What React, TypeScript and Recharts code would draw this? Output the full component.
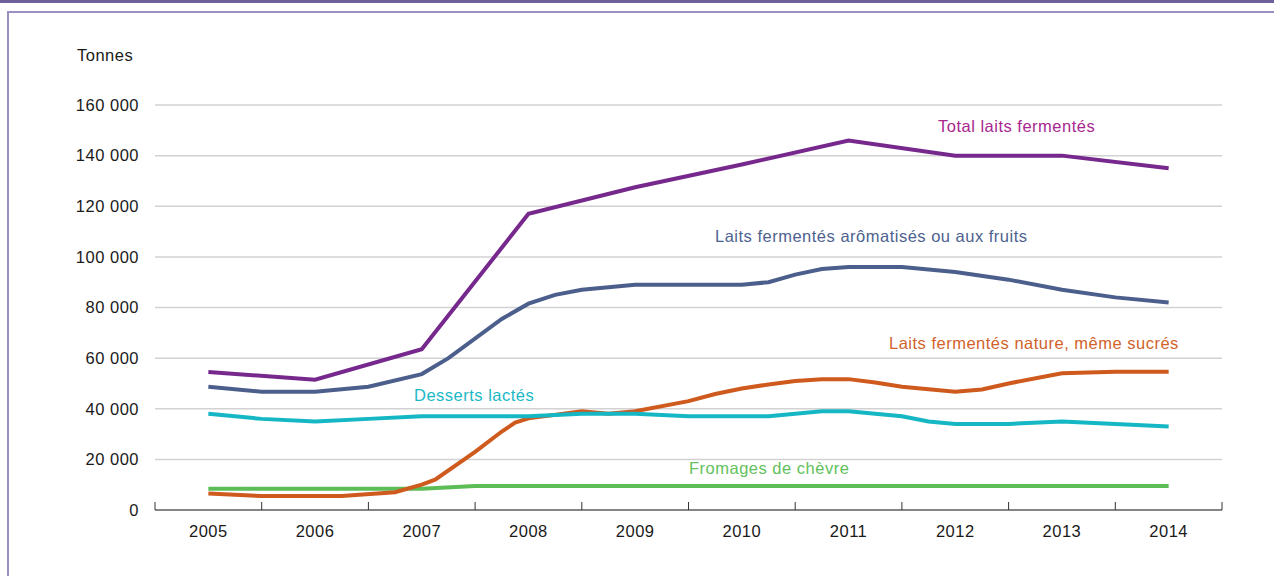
import React from 'react';
import { LineChart, Line, XAxis, YAxis, CartesianGrid } from 'recharts';

// Tick labels / categories
const years = [2005, 2006, 2007, 2008, 2009, 2010, 2011, 2012, 2013, 2014];
const yearBounds = [2004.5, 2005.5, 2006.5, 2007.5, 2008.5, 2009.5, 2010.5, 2011.5, 2012.5, 2013.5, 2014.5];
const yTicks = [0, 20000, 40000, 60000, 80000, 100000, 120000, 140000, 160000];

// Total laits fermentés
const totalX = [2005, 2006, 2007, 2008, 2009, 2010, 2011, 2012, 2013, 2014];
const totalY = [54500, 51500, 63500, 117000, 127500, 136500, 146000, 140000, 140000, 135000];

// Laits fermentés arômatisés ou aux fruits
const aromX = [2005, 2005.5, 2006, 2006.5, 2007, 2007.25, 2007.75, 2008, 2008.25, 2008.5, 2009, 2010, 2010.25, 2010.5, 2010.75, 2011, 2011.5, 2012, 2012.5, 2013, 2013.5, 2014];
const aromY = [48700, 46700, 46700, 48700, 53700, 60000, 75500, 81500, 85000, 87000, 89000, 89000, 90000, 93000, 95200, 96000, 96000, 94000, 91000, 87000, 84000, 82000];

// Laits fermentés nature, même sucrés
const natX = [2005, 2005.5, 2006, 2006.25, 2006.75, 2007, 2007.125, 2007.5, 2007.75, 2007.875, 2008, 2008.5, 2008.75, 2009, 2009.5, 2009.75, 2010, 2010.25, 2010.5, 2010.75, 2011, 2011.25, 2011.5, 2012, 2012.25, 2012.5, 2013, 2013.5, 2014];
const natY = [6500, 5500, 5500, 5500, 7000, 10000, 12000, 23000, 31000, 34500, 36200, 39000, 38000, 39000, 43000, 45800, 48000, 49600, 51000, 51700, 51700, 50400, 48700, 46700, 47600, 50000, 54000, 54600, 54600];

// Desserts lactés
const dessX = [2005, 2005.5, 2006, 2006.5, 2007, 2008, 2008.5, 2009, 2009.5, 2010, 2010.25, 2010.75, 2011, 2011.5, 2011.75, 2012, 2012.5, 2013, 2014];
const dessY = [38000, 36000, 35000, 36000, 37000, 37000, 38000, 38000, 37000, 37000, 37000, 39000, 39000, 37000, 35000, 34000, 34000, 35000, 33000];

// Fromages de chèvre
const chevX = [2005, 2006, 2007, 2007.5, 2008, 2009, 2010, 2011, 2012, 2013, 2014];
const chevY = [8400, 8400, 8400, 9500, 9500, 9500, 9500, 9500, 9500, 9500, 9500];

const toData = (xs: number[], ys: number[]) => xs.map((x, i) => ({ x, v: ys[i] }));

const totalData = toData(totalX, totalY);
const aromData = toData(aromX, aromY);
const natData = toData(natX, natY);
const dessData = toData(dessX, dessY);
const chevData = toData(chevX, chevY);

const FONT = '"Liberation Sans", Arial, sans-serif';
const FS = 16.5;
const LS = 0.5;

const fmt = (n: number) => String(n).replace(/\B(?=(\d{3})+(?!\d))/g, ' ');

const labelStyle = (color: string, left: number, top: number): React.CSSProperties => ({
  position: 'absolute',
  left,
  top,
  color,
  fontFamily: FONT,
  fontSize: FS,
  letterSpacing: LS,
  lineHeight: '18px',
  whiteSpace: 'nowrap',
});

export default function App() {
  return (
    <div style={{ position: 'absolute', left: 0, top: 0, width: 1274, height: 576, background: '#fff', overflow: 'hidden' }}>
      <div style={{ position: 'absolute', left: 0, top: 0, width: 1274, height: 3, background: '#6f5f9a' }} />
      <div style={{ position: 'absolute', left: 7, top: 11, width: 1267, height: 565, borderTop: '2px solid #9c90c2', borderLeft: '2px solid #9c90c2', boxSizing: 'border-box' }} />
      <div style={{ position: 'absolute', left: 0, top: 0 }}>
        <LineChart width={1274} height={576} margin={{ top: 105, right: 52, bottom: 36, left: 0 }}>
          <CartesianGrid vertical={false} stroke="#d2d2d2" strokeWidth={1.5} />
          <YAxis
            type="number"
            domain={[0, 160000]}
            ticks={yTicks}
            interval={0}
            width={155}
            axisLine={false}
            tickLine={false}
            tickSize={0}
            tickMargin={16}
            tickFormatter={fmt}
            tick={{ fill: '#1a1a1a', fontSize: FS, fontFamily: FONT, letterSpacing: LS }}
          />
          <XAxis
            xAxisId="bounds"
            dataKey="x"
            type="number"
            domain={[2004.5, 2014.5]}
            allowDataOverflow
            ticks={yearBounds}
            interval={0}
            height={8}
            mirror
            tickSize={8}
            tickMargin={0}
            axisLine={{ stroke: '#858585', strokeWidth: 2 }}
            tickLine={{ stroke: '#333', strokeWidth: 1 }}
            tickFormatter={() => ''}
          />
          <XAxis
            xAxisId="years"
            dataKey="x"
            type="number"
            domain={[2004.5, 2014.5]}
            allowDataOverflow
            ticks={years}
            interval={0}
            height={30}
            axisLine={false}
            tickLine={false}
            tickSize={0}
            tickMargin={15}
            tick={{ fill: '#1a1a1a', fontSize: FS, fontFamily: FONT, letterSpacing: LS }}
          />
          <Line xAxisId="years" data={chevData} dataKey="v" type="linear" stroke="#5cbd57" strokeWidth={4} dot={false} isAnimationActive={false} />
          <Line xAxisId="years" data={natData} dataKey="v" type="linear" stroke="#cf5a1e" strokeWidth={4} dot={false} isAnimationActive={false} />
          <Line xAxisId="years" data={dessData} dataKey="v" type="linear" stroke="#14b7c3" strokeWidth={4} dot={false} isAnimationActive={false} />
          <Line xAxisId="years" data={aromData} dataKey="v" type="linear" stroke="#4c5f8c" strokeWidth={4} dot={false} isAnimationActive={false} />
          <Line xAxisId="years" data={totalData} dataKey="v" type="linear" stroke="#76288c" strokeWidth={4} dot={false} isAnimationActive={false} />
        </LineChart>
      </div>
      <div style={labelStyle('#1a1a1a', 77, 46)}>Tonnes</div>
      <div style={labelStyle('#a8278f', 938, 117)}>Total laits fermentés</div>
      <div style={labelStyle('#4d628f', 715, 227)}>Laits fermentés arômatisés ou aux fruits</div>
      <div style={labelStyle('#d1622a', 889, 334)}>Laits fermentés nature, même sucrés</div>
      <div style={labelStyle('#1bb8c6', 414, 386)}>Desserts lactés</div>
      <div style={labelStyle('#62c15d', 689, 459)}>Fromages de chèvre</div>
    </div>
  );
}
